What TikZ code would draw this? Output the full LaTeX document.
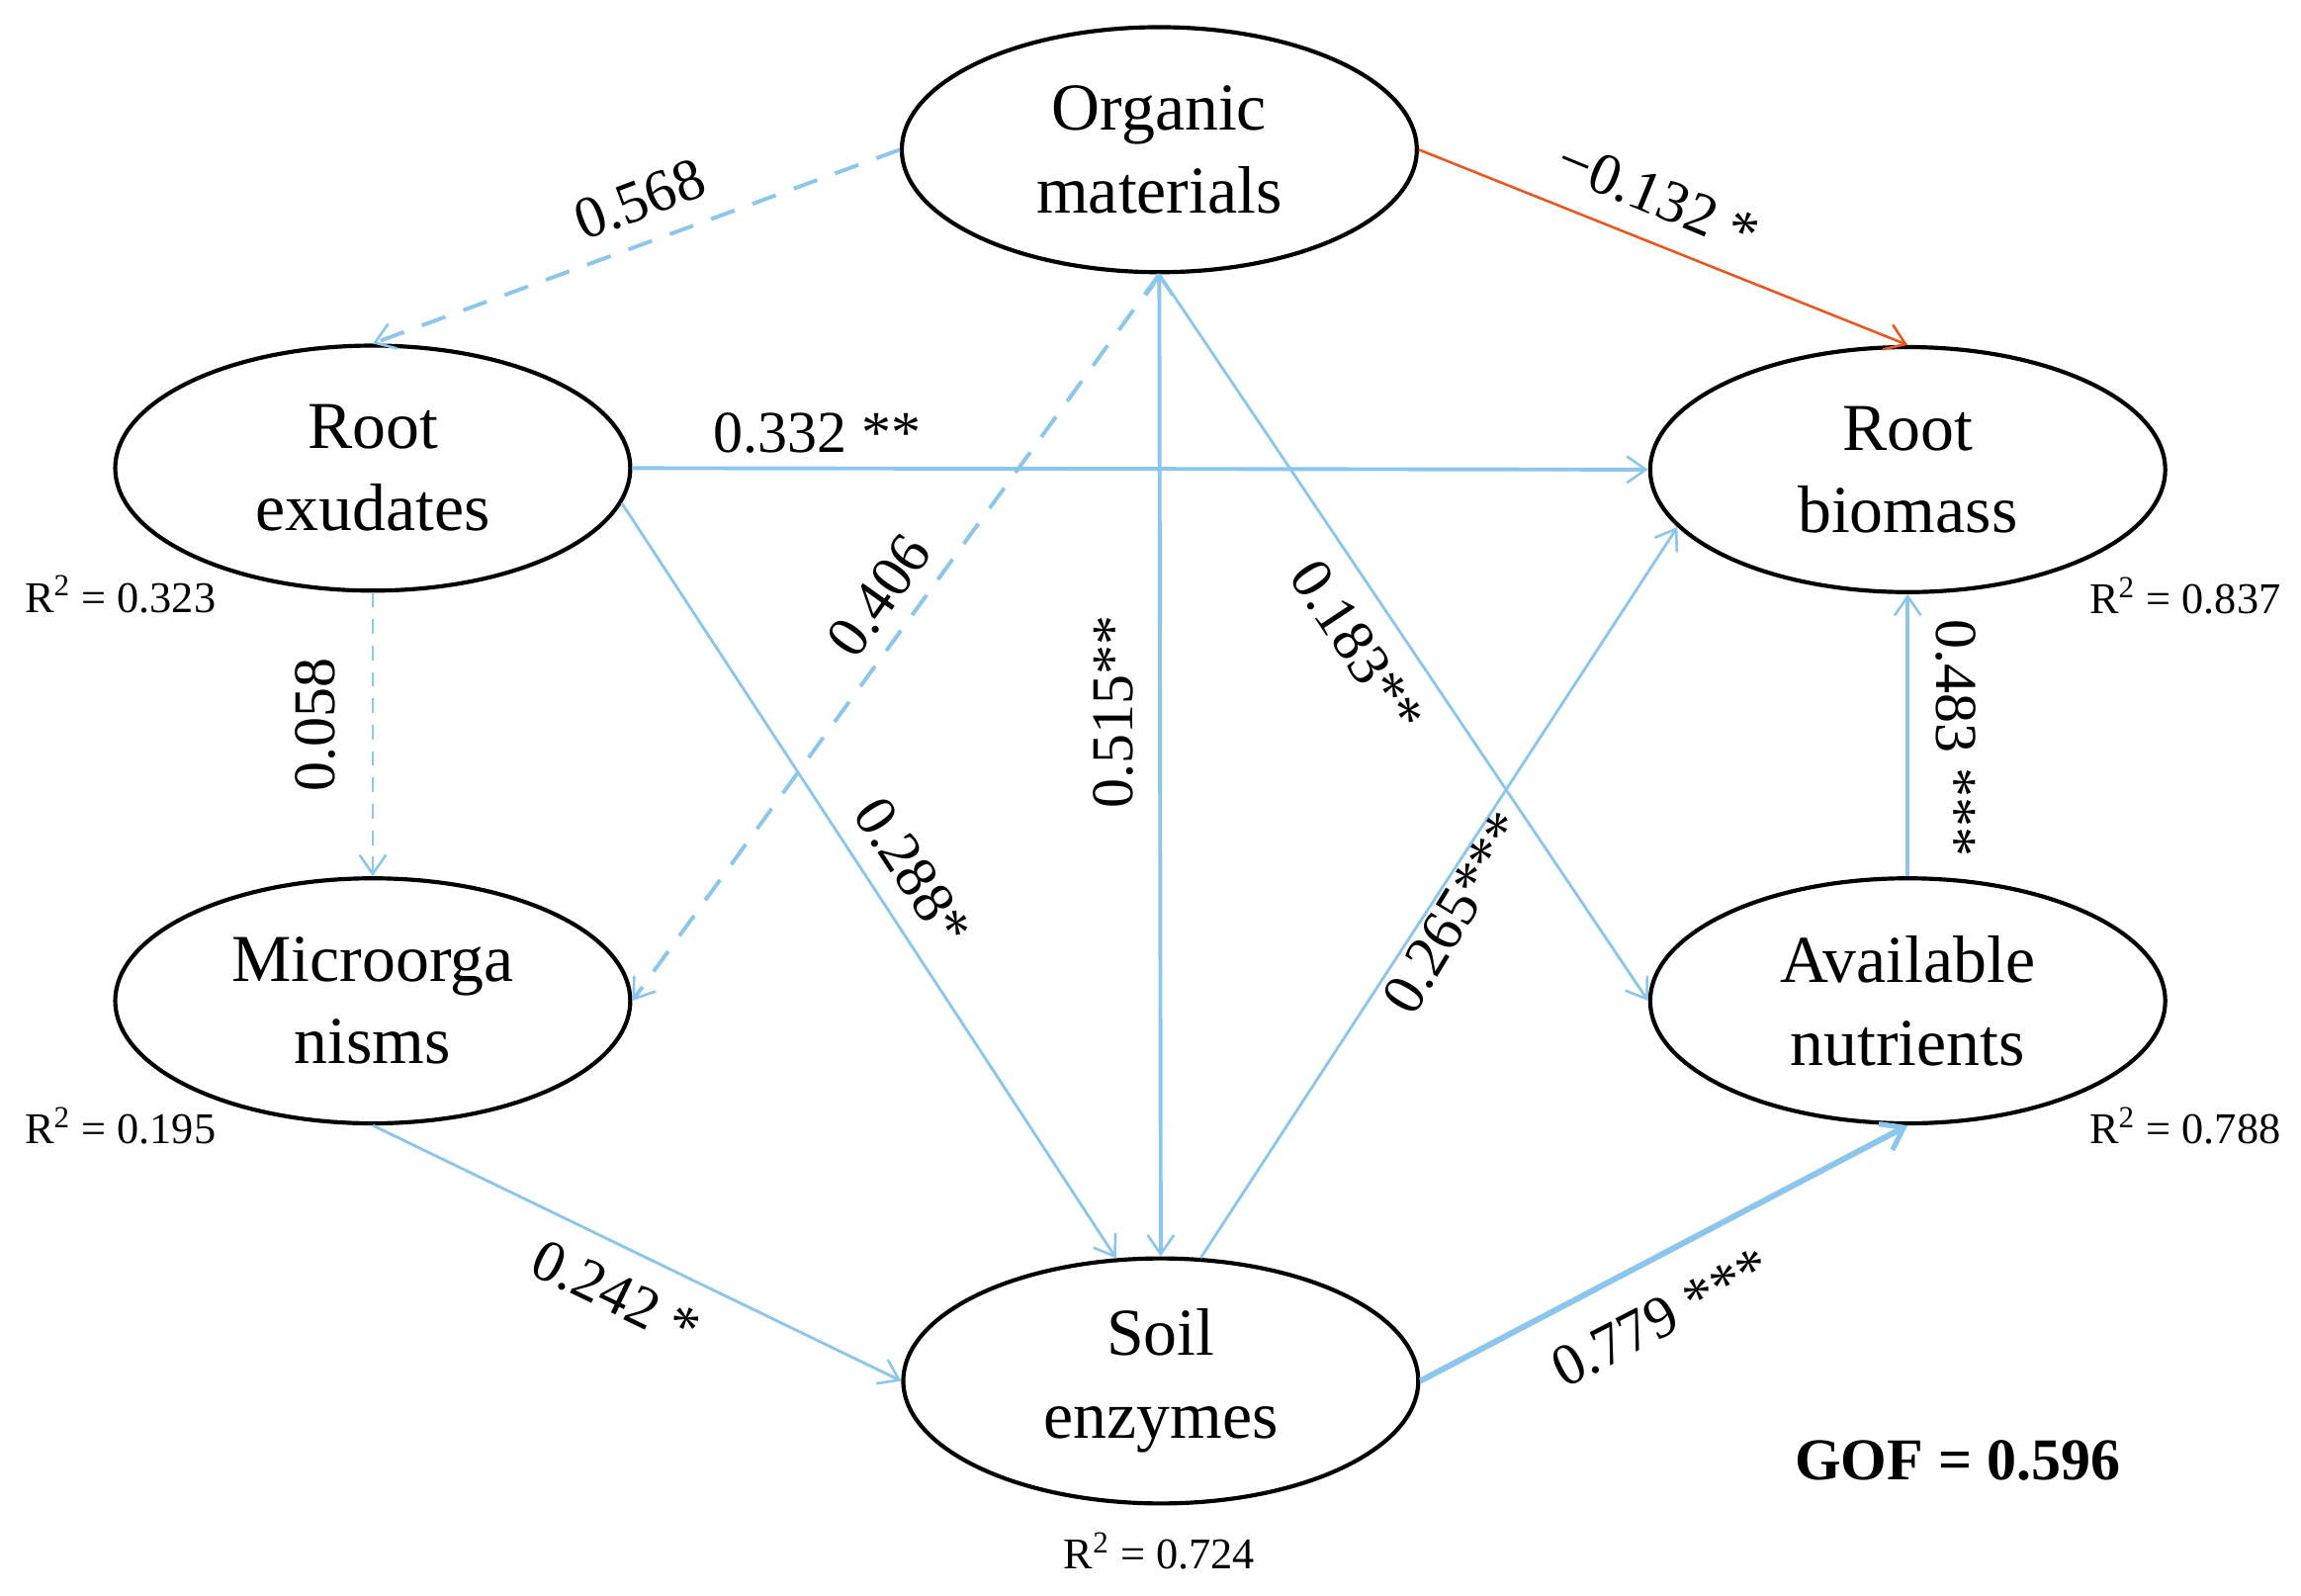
\documentclass[tikz,border=0pt]{standalone}
\usepackage{fontspec}
\setmainfont{Liberation Serif}
\usetikzlibrary{arrows.meta,shapes.geometric}
\definecolor{lblue}{RGB}{140,198,236}
\definecolor{lorange}{RGB}{232,88,36}
\begin{document}
\begin{tikzpicture}[x=0.02cm,y=-0.02cm,
  var/.style={ellipse,draw=black,line width=1.6pt,minimum width=7.02cm,minimum height=3.34cm,
    inner sep=0pt,align=center,font=\fontsize{26}{32}\selectfont},
  tip/.tip={Straight Barb[length=0.26cm,width=0.36cm,line width=1pt]},
  lnk/.style={draw=lblue,line width=1.1pt,-tip},
  lnkm/.style={draw=lblue,line width=1.5pt,-tip},
  lnkthick/.style={draw=lblue,line width=2.3pt,-{Straight Barb[length=0.28cm,width=0.4cm,line width=2pt]}},
  dashthin/.style={dash pattern=on 0.2cm off 0.16cm},
  dashmed/.style={dash pattern=on 0.34cm off 0.26cm},
  lab/.style={inner sep=0pt,font=\fontsize{23}{27}\selectfont},
  rsq/.style={inner sep=0pt,font=\fontsize{17}{20}\selectfont},
]
\useasboundingbox (0,0) rectangle (1568,1087);

% variables
\node[var] (org) at (790,102) {Organic\\materials};
\node[var] (rex) at (254,319) {Root\\exudates};
\node[var] (mic) at (254,682) {Microorga\\nisms};
\node[var] (soil) at (791,941) {Soil\\enzymes};
\node[var] (rbm) at (1300,320) {Root\\biomass};
\node[var] (avn) at (1300,682) {Available\\nutrients};

% connectors
\draw[lnkm,dashmed] (org.west) -- (rex.north);
\draw[draw=lorange,line width=1pt,-{Straight Barb[length=0.26cm,width=0.36cm,line width=1pt]}] (org.east) -- (rbm.north);
\draw[lnkm] (rex.east) -- (rbm.west);
\draw[lnk,dashthin] (rex.south) -- (mic.north);
\draw[lnkm,dashmed] (org.south) -- (mic.east);
\draw[lnk] (rex.-8) -- (soil.110);
\draw[draw=lblue,line width=1.5pt,tip-tip] (org.south) -- (soil.north);
\draw[lnk] (org.south) -- (avn.west);
\draw[lnk] (soil.72) -- (rbm.194);
\draw[lnk] (mic.south) -- (soil.west);
\draw[lnkthick] (soil.east) -- (avn.south);
\draw[lnkm] (avn.north) -- (rbm.south);

% path coefficients
\node[lab,rotate=20.7] (l1) at (436,136) {0.568};
\node[lab,rotate=-22.3] (l2) at (1130,134) {−0.132 *};
\node[lab] (l3) at (557,295) {0.332 **};
\node[lab,rotate=90] (l4) at (215,494) {0.058};
\node[lab,rotate=54.5] (l5) at (599,406) {0.406};
\node[lab,rotate=90] (l6) at (759,485) {0.515**};
\node[lab,rotate=-56.8] (l7) at (622,594) {0.288*};
\node[lab,rotate=-56.5] (l8) at (925,441) {0.183**};
\node[lab,rotate=58.8] (l9) at (991,622) {0.265***};
\node[lab,rotate=-25.8] (l10) at (420,882) {0.242 *};
\node[lab,rotate=27.2] (l11) at (1132,898) {0.779 ***};
\node[lab,rotate=-90] (l12) at (1333,503) {0.483 ***};

% R squared
\node[rsq] (r1) at (82,405) {R\textsuperscript{2} = 0.323};
\node[rsq] (r2) at (82,767) {R\textsuperscript{2} = 0.195};
\node[rsq] (r3) at (790,1057) {R\textsuperscript{2} = 0.724};
\node[rsq] (r4) at (1489,406) {R\textsuperscript{2} = 0.837};
\node[rsq] (r5) at (1489,767) {R\textsuperscript{2} = 0.788};

\node[inner sep=0pt,font=\fontsize{23}{27}\selectfont\bfseries] (gof) at (1334,995) {GOF = 0.596};
\end{tikzpicture}
\end{document}
